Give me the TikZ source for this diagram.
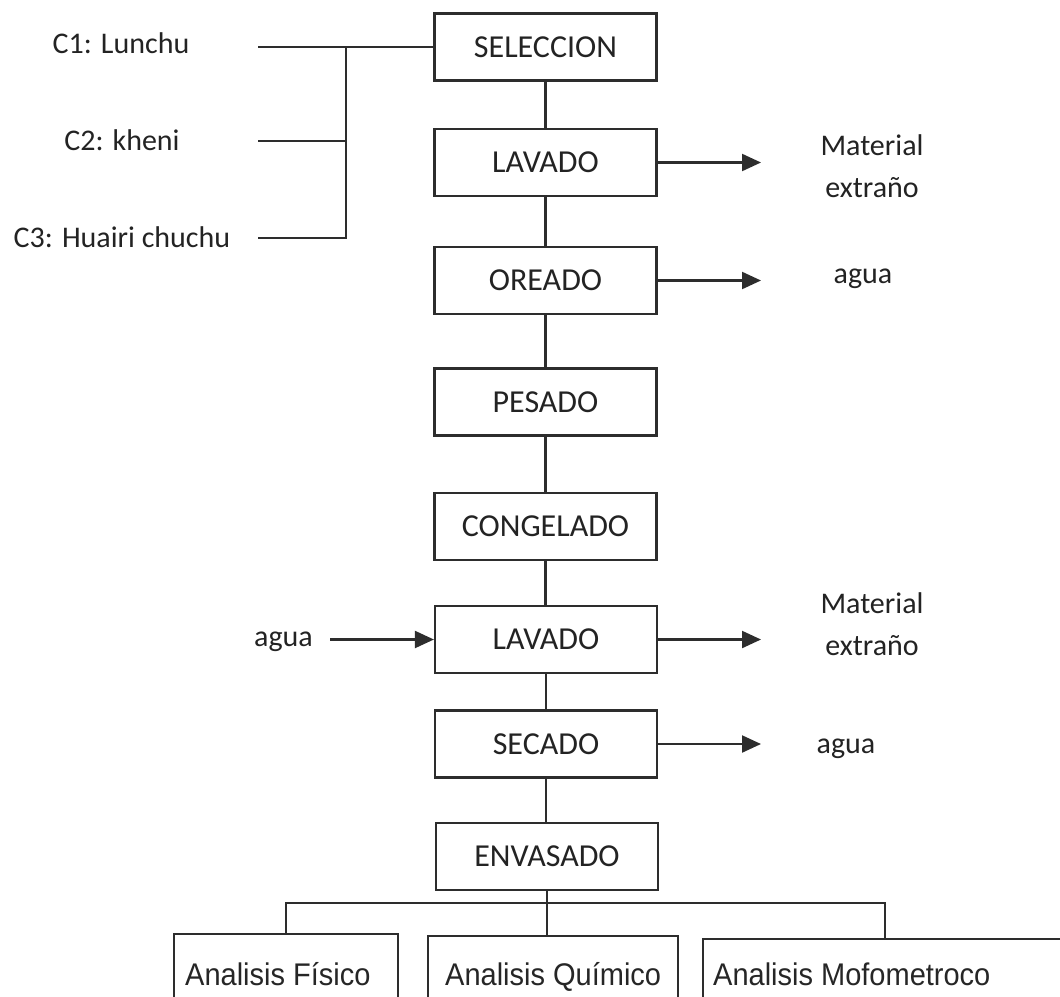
\documentclass[tikz,border=0pt]{standalone}
\usepackage{fontspec}
\setmainfont{Carlito}
\newfontfamily\arialf{Liberation Sans}
\usetikzlibrary{arrows.meta}
\definecolor{ln}{RGB}{45,45,45}
\definecolor{tx}{RGB}{35,35,35}
\begin{document}
\begin{tikzpicture}[x=1pt,y=-1pt,
 procbox/.style={draw=ln, line width=2.2pt, minimum width=222pt, minimum height=67pt, inner sep=0pt, font=\fontsize{32}{38}\selectfont, text=tx},
 lbl/.style={font=\fontsize{30}{36}\selectfont, text=tx, inner sep=0pt, anchor=base},
 abox/.style={draw=ln, line width=2.2pt, inner sep=0pt, anchor=north west, minimum height=90pt},
 atext/.style={font=\arialf\fontsize{29}{34}\selectfont, text=black!85, inner sep=0pt, anchor=base west, yscale=1.08},
 conn/.style={draw=ln, line width=2.2pt},
 arr/.style={conn, -{Triangle[length=19pt,width=17pt]}},
]
\useasboundingbox (0,0) rectangle (1060,996);
\clip (0,0) rectangle (1060,996);

% main process boxes
\node[procbox] (sel)  at (545.5,47)    {SELECCION};
\node[procbox] (lav1) at (545.5,162.5) {LAVADO};
\node[procbox] (ore)  at (545.5,280.5) {OREADO};
\node[procbox] (pes)  at (545.5,402)   {PESADO};
\node[procbox] (con)  at (545.5,526.5) {CONGELADO};
\node[procbox] (lav2) at (546,639.5)   {LAVADO};
\node[procbox] (sec)  at (546,744)     {SECADO};
\node[procbox] (env)  at (547,856.5)   {ENVASADO};

\draw[conn] (sel) -- (lav1);
\draw[conn] (lav1) -- (ore);
\draw[conn] (ore) -- (pes);
\draw[conn] (pes) -- (con);
\draw[conn] (con) -- (con.south |- lav2.north);
\draw[conn] (lav2) -- (sec);
\draw[conn] (sec) -- (sec.south |- env.north);

% inputs C1..C3
\node[lbl] (c1) at (121,53)  {C1: Lunchu};
\node[lbl] (c2) at (122,150) {C2: kheni};
\node[lbl] (c3) at (122,247) {C3: Huairi chuchu};
\coordinate (c1o) at (258,47);
\coordinate (c2o) at (258,141);
\coordinate (c3o) at (258,238);
\coordinate (bus1) at (346,47);
\draw[conn] (c1o) -- (sel.west);
\draw[conn] (c2o) -- (c2o -| bus1);
\draw[conn] (c3o) -| (bus1);

% outputs on the right
\coordinate (tip) at (761,0);
\node[lbl] (m1a) at (872,155) {Material};
\node[lbl] (m1b) at (872,197) {extraño};
\draw[arr] (lav1.east) -- (lav1.east -| tip);
\node[lbl] (ag1) at (863,283) {agua};
\draw[arr] (ore.east) -- (ore.east -| tip);
\node[lbl] (m2a) at (872,613) {Material};
\node[lbl] (m2b) at (872,655) {extraño};
\draw[arr] (lav2.east) -- (lav2.east -| tip);
\node[lbl] (ag2) at (846,753) {agua};
\draw[arr] (sec.east) -- (sec.east -| tip);

% input water
\node[lbl] (agL) at (283.5,646) {agua};
\coordinate (agLs) at (330,639.5);
\draw[arr] (agLs) -- (lav2.west);

% analysis boxes
\node[abox, minimum width=224pt] (fis) at (173,933) {};
\node[abox, minimum width=250pt] (qui) at (427,935) {};
\node[abox, minimum width=400pt] (mof) at (702,938) {};
\node[atext] (tf) at (185,985) {Analisis Físico};
\node[atext] (tq) at (445,985) {Analisis Químico};
\node[atext] (tm) at (713,985) {Analisis Mofometroco};

\coordinate (busR) at (885,903);
\draw[conn] (fis.north) |- (busR) -- (busR |- mof.north);
\draw[conn] (env.south) -- (env.south |- qui.north);
\end{tikzpicture}
\end{document}
